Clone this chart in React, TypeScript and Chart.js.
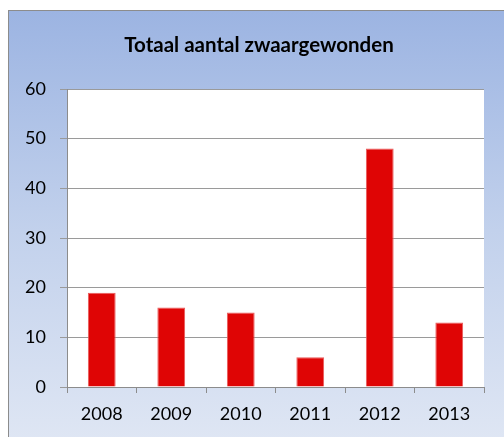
import React, { useEffect, useRef } from "react";
import { Chart, registerables } from "chart.js";

Chart.register(...registerables);

const title = "Totaal aantal zwaargewonden";
const years = ["2008", "2009", "2010", "2011", "2012", "2013"];
const values = [19, 16, 15, 6, 48, 13];
const yTicks = [0, 10, 20, 30, 40, 50, 60];

const FONT = "Lato, 'Open Sans', sans-serif";

export default function App() {
  const ref = useRef<HTMLCanvasElement | null>(null);

  useEffect(() => {
    if (!ref.current) return;
    const bgPlugin = {
      id: "plotBg",
      beforeDraw(chart: any) {
        const { ctx, chartArea } = chart;
        ctx.save();
        ctx.fillStyle = "#ffffff";
        ctx.fillRect(chartArea.left, chartArea.top, chartArea.right - chartArea.left, chartArea.bottom - chartArea.top);
        ctx.restore();
      },
      afterDraw(chart: any) {
        const { ctx } = chart;
        ctx.save();
        ctx.font = "bold 20.5px " + FONT;
        ctx.fillStyle = "#000000";
        ctx.textAlign = "center";
        ctx.textBaseline = "middle";
        ctx.fillText(title, 259, 45);
        ctx.restore();
      },
    };
    const chart = new Chart(ref.current, {
      type: "bar",
      data: {
        labels: years,
        datasets: [
          {
            data: values,
            backgroundColor: "#df0505",
            borderColor: "#ea5a5a",
            borderWidth: 1,
            categoryPercentage: 1,
            barPercentage: 0.4,
          },
        ],
      },
      options: {
        responsive: false,
        animation: false,
        devicePixelRatio: 1,
        layout: { padding: { top: 89, right: 20, left: 0, bottom: 0 } },
        plugins: {
          legend: { display: false },
          title: { display: false },
          tooltip: { enabled: false },
        },
        scales: {
          x: {
            offset: true,
            grid: {
              offset: true,
              drawOnChartArea: false,
              drawTicks: true,
              tickLength: 6,
              color: "#8c8c8c",
            },
            border: { display: true, color: "#8c8c8c", width: 1 },
            ticks: {
              color: "#000000",
              font: { family: FONT, size: 18 },
              padding: 10,
              maxRotation: 0,
            },
            afterFit(scale: any) {
              scale.height = 50;
            },
          },
          y: {
            min: 0,
            max: 60,
            afterBuildTicks(scale: any) {
              scale.ticks = yTicks.map((v) => ({ value: v }));
            },
            grid: {
              drawOnChartArea: true,
              drawTicks: true,
              tickLength: 7,
              color: "#9a9a9a",
            },
            border: { display: true, color: "#8c8c8c", width: 1 },
            ticks: {
              color: "#000000",
              font: { family: FONT, size: 18 },
              padding: 14,
            },
            afterFit(scale: any) {
              scale.width = 67;
            },
          },
        },
      },
      plugins: [bgPlugin],
    });
    return () => chart.destroy();
  }, []);

  return (
    <div style={{ position: "fixed", left: 0, top: 0, width: 504, height: 437, overflow: "hidden", background: "#ffffff" }}>
      <div
        style={{
          position: "absolute",
          left: 8,
          top: 10,
          width: 520,
          height: 440,
          borderLeft: "1px solid #8c8c8c",
          borderTop: "1px solid #8c8c8c",
          background: "linear-gradient(to bottom, #9cb4e2 0%, #c2d1ec 50%, #e0e7f4 100%)",
          boxSizing: "border-box",
        }}
      />
      <canvas ref={ref} width={504} height={437} style={{ position: "absolute", left: 0, top: 0, display: "block" }} />
    </div>
  );
}
